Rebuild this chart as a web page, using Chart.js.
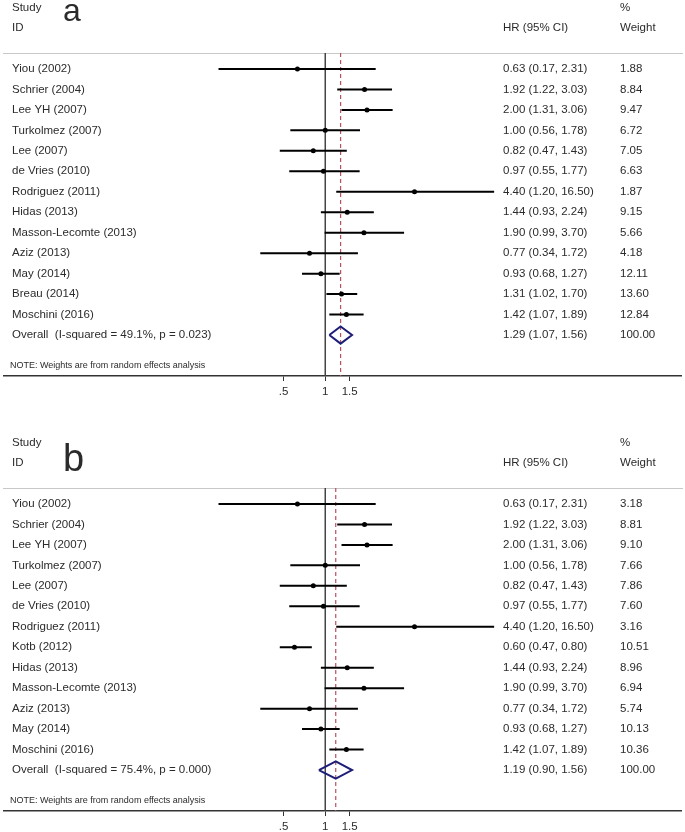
<!DOCTYPE html>
<html>
<head>
<meta charset="utf-8">
<script src="https://cdn.jsdelivr.net/npm/chart.js@4.4.0/dist/chart.umd.min.js"></script>
<style>
  html, body { margin: 0; padding: 0; background: #fff; overflow: hidden; }
  #wrap { position: relative; width: 685px; height: 832px; }
  canvas { position: absolute; left: 0; }
</style>
</head>
<body>
<div id="wrap">
  <canvas id="plot-a" width="685" height="397" style="top:0px"></canvas>
  <canvas id="plot-b" width="685" height="397" style="top:435px"></canvas>
</div>
<script>
/* Two forest plots (HR, 95% CI) drawn on a log x axis */

// panel a
const studiesA = ['Yiou (2002)', 'Schrier (2004)', 'Lee YH (2007)', 'Turkolmez (2007)', 'Lee (2007)',
  'de Vries (2010)', 'Rodriguez (2011)', 'Hidas (2013)', 'Masson-Lecomte (2013)', 'Aziz (2013)',
  'May (2014)', 'Breau (2014)', 'Moschini (2016)']
const hrA = [0.63, 1.92, 2.00, 1.00, 0.82, 0.97, 4.40, 1.44, 1.90, 0.77, 0.93, 1.31, 1.42]
const lowA = [0.17, 1.22, 1.31, 0.56, 0.47, 0.55, 1.20, 0.93, 0.99, 0.34, 0.68, 1.02, 1.07]
const highA = [2.31, 3.03, 3.06, 1.78, 1.43, 1.77, 16.50, 2.24, 3.70, 1.72, 1.27, 1.70, 1.89]
const weightA = [1.88, 8.84, 9.47, 6.72, 7.05, 6.63, 1.87, 9.15, 5.66, 4.18, 12.11, 13.60, 12.84]
const overallA = [1.29, 1.07, 1.56]   // hr, low, high
const hetA = ['49.1%', '0.023']        // I-squared, p

// panel b
const studiesB = ['Yiou (2002)', 'Schrier (2004)', 'Lee YH (2007)', 'Turkolmez (2007)', 'Lee (2007)',
  'de Vries (2010)', 'Rodriguez (2011)', 'Kotb (2012)', 'Hidas (2013)', 'Masson-Lecomte (2013)',
  'Aziz (2013)', 'May (2014)', 'Moschini (2016)']
const hrB = [0.63, 1.92, 2.00, 1.00, 0.82, 0.97, 4.40, 0.60, 1.44, 1.90, 0.77, 0.93, 1.42]
const lowB = [0.17, 1.22, 1.31, 0.56, 0.47, 0.55, 1.20, 0.47, 0.93, 0.99, 0.34, 0.68, 1.07]
const highB = [2.31, 3.03, 3.06, 1.78, 1.43, 1.77, 16.50, 0.80, 2.24, 3.70, 1.72, 1.27, 1.89]
const weightB = [3.18, 8.81, 9.10, 7.66, 7.86, 7.60, 3.16, 10.51, 8.96, 6.94, 5.74, 10.13, 10.36]
const overallB = [1.19, 0.90, 1.56]
const hetB = ['75.4%', '0.000']

const xTicks = [0.5, 1, 1.5]
const xTickLabels = ['.5', '1', '1.5']

const FONT = '"Liberation Sans", Arial, sans-serif'
const TEXT = '#2b2b2b'

Chart.defaults.font.family = FONT
Chart.defaults.color = TEXT

const fmt = (v) => v.toFixed(2)

// study names, estimates and weights, plus headers and the note
const forestText = {
  id: 'forestText',
  beforeDatasetsDraw(chart) {
    const { ctx, chartArea } = chart
    ctx.save()
    ctx.strokeStyle = '#c8c8c8'
    ctx.lineWidth = 1
    ctx.beginPath()
    ctx.moveTo(3, chartArea.top + 0.5)
    ctx.lineTo(683, chartArea.top + 0.5)
    ctx.stroke()
    ctx.restore()
  },
  afterDraw(chart, args, o) {
    const { ctx, chartArea } = chart
    const y = chart.scales.y
    const top = chartArea.top
    ctx.save()
    ctx.fillStyle = TEXT
    ctx.textBaseline = 'middle'
    ctx.textAlign = 'left'
    ctx.font = '11.5px ' + FONT
    ctx.fillText('Study', 12, top - 45)
    ctx.fillText('ID', 12, top - 25)
    ctx.fillText('%', 620, top - 45)
    ctx.fillText('HR (95% CI)', 503, top - 25)
    ctx.fillText('Weight', 620, top - 25)

    o.studies.forEach((name, i) => {
      const py = y.getPixelForValue(i)
      ctx.fillText(name, 12, py)
      ctx.fillText(fmt(o.hr[i]) + ' (' + fmt(o.low[i]) + ', ' + fmt(o.high[i]) + ')', 503, py)
      ctx.fillText(fmt(o.weight[i]), 620, py)
    })
    const n = o.studies.length
    const py = y.getPixelForValue(n)
    ctx.fillText('Overall  (I-squared = ' + o.het[0] + ', p = ' + o.het[1] + ')', 12, py)
    ctx.fillText(fmt(o.overall[0]) + ' (' + fmt(o.overall[1]) + ', ' + fmt(o.overall[2]) + ')', 503, py)
    ctx.fillText('100.00', 620, py)

    ctx.font = '9px ' + FONT
    ctx.fillText('NOTE: Weights are from random effects analysis', 10, chartArea.bottom - 10)

    ctx.font = o.letterSize + 'px ' + FONT
    ctx.textBaseline = 'alphabetic'
    ctx.fillText(o.letter, 63, o.letterY)
    ctx.restore()
  }
}

function forest(canvasId, letter, letterSize, letterY, studies, hr, low, high, weight, overall, het) {
  const n = studies.length
  const yMin = -0.78
  const yMax = 15.0

  const points = hr.map((v, i) => ({ x: v, y: i }))
  const ci = []
  low.forEach((v, i) => {
    ci.push({ x: v, y: i }, { x: high[i], y: i }, { x: high[i], y: null })
  })
  const h = 0.42
  const diamond = [
    { x: overall[1], y: n }, { x: overall[0], y: n - h }, { x: overall[2], y: n },
    { x: overall[0], y: n + h }, { x: overall[1], y: n }
  ]

  return new Chart(document.getElementById(canvasId).getContext('2d'), {
    type: 'scatter',
    data: {
      datasets: [
        { data: points, pointRadius: 2.5, pointBackgroundColor: '#000', pointBorderWidth: 0, showLine: false },
        { data: ci, showLine: true, spanGaps: false, pointRadius: 0, borderColor: '#000', borderWidth: 2 },
        { data: diamond, showLine: true, pointRadius: 0, borderColor: '#1e1e78', borderWidth: 2 },
        { data: [{ x: overall[0], y: yMin }, { x: overall[0], y: yMax }], showLine: true, pointRadius: 0,
          borderColor: '#b8505f', borderWidth: 1.2, borderDash: [4, 3] },
        { data: [{ x: 1, y: yMin }, { x: 1, y: yMax }], showLine: true, pointRadius: 0,
          borderColor: '#444', borderWidth: 1.5 }
      ]
    },
    options: {
      responsive: false,
      animation: false,
      events: [],
      layout: { padding: { top: 53, left: 4, right: 1, bottom: 0 } },
      plugins: {
        legend: { display: false },
        tooltip: { enabled: false },
        forestText: { studies, hr, low, high, weight, overall, het, letter, letterSize, letterY }
      },
      scales: {
        x: {
          type: 'logarithmic',
          min: 0.00483,
          max: 367,
          afterBuildTicks: (scale) => { scale.ticks = xTicks.map((v) => ({ value: v })) },
          afterFit: (scale) => { scale.height = 21 },
          ticks: {
            autoSkip: false,
            maxRotation: 0,
            padding: 4,
            font: { size: 11.5 },
            color: TEXT,
            callback: (v, i) => xTickLabels[i]
          },
          grid: { display: true, drawOnChartArea: false, drawTicks: true, tickLength: 5, color: '#333', lineWidth: 1 },
          border: { display: true, color: '#333', width: 1.5 }
        },
        y: { type: 'linear', reverse: true, min: yMin, max: yMax, display: false }
      }
    },
    plugins: [forestText]
  })
}

forest('plot-a', 'a', 32, 21, studiesA, hrA, lowA, highA, weightA, overallA, hetA)
forest('plot-b', 'b', 38, 36, studiesB, hrB, lowB, highB, weightB, overallB, hetB)
</script>
</body>
</html>
